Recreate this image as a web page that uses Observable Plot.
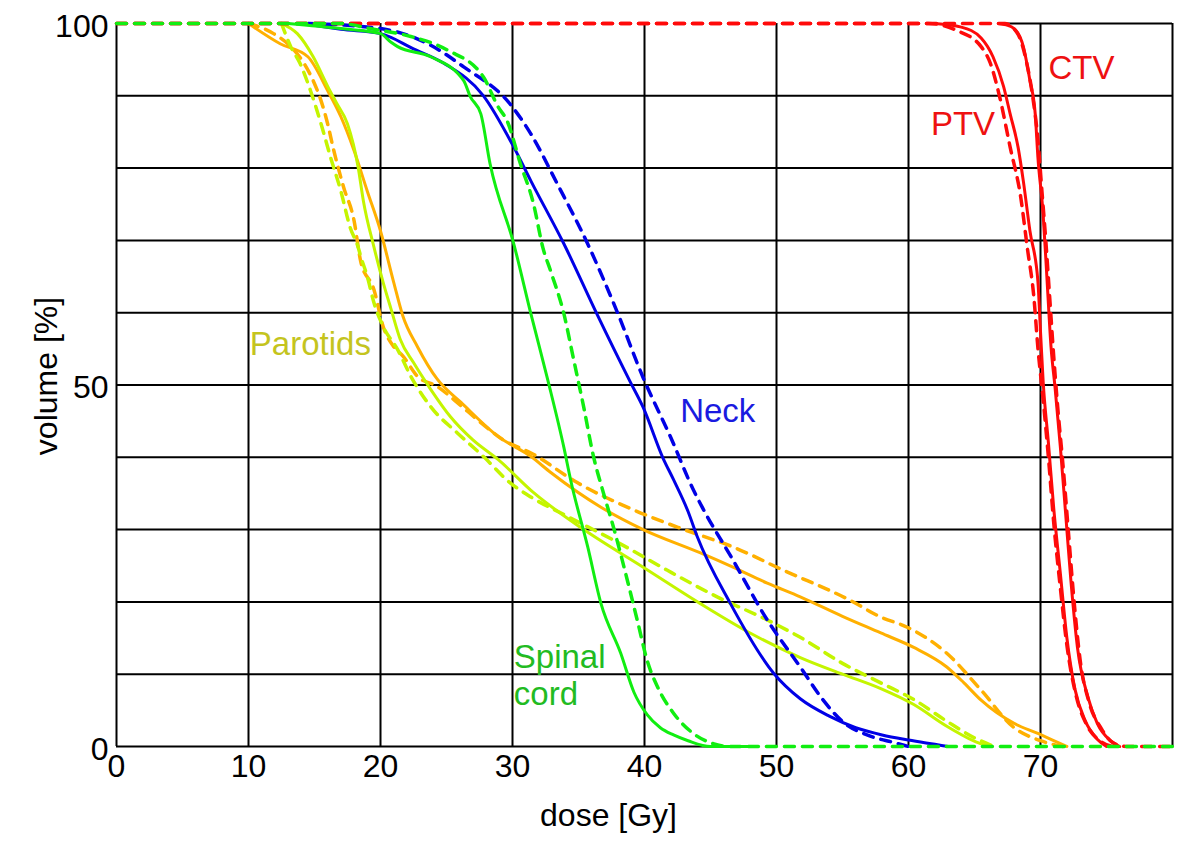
<!DOCTYPE html>
<html>
<head>
<meta charset="utf-8">
<script src="https://cdn.jsdelivr.net/npm/d3@7"></script>
<script src="https://cdn.jsdelivr.net/npm/@observablehq/plot@0.6"></script>
<style>
  html, body { margin: 0; padding: 0; background: #fff; }
  #chart { width: 1200px; height: 848px; }
</style>
</head>
<body>
<div id="chart"></div>
<script>
// ---- data: [dose (Gy), volume (%)] ----
const ctvSolid = [[66.8,100],[67.4,99.8],[68,99.3],[68.7,96.8],[69.2,92.1],[69.6,87.5],[69.8,81.6],[70.2,73.6],[70.5,64.4],[70.8,55.2],[71.1,49.7],[71.5,41.5],[71.9,32.3],[72.3,23],[72.8,13.7],[73.6,6.8],[74.3,3.2],[75.3,0.8],[76,0]];
const ctvDashed = [[0,100],[67.3,100],[68.3,98.5],[68.9,95],[69.4,90],[69.8,84],[70.1,77],[70.4,70],[70.7,62],[71,54],[71.3,47],[71.7,39],[72.1,30],[72.5,21],[73,12],[73.7,6],[74.6,2.5],[75.5,0.5],[76.5,0],[80,0]];
const ptvSolid = [[62,100],[64,99.5],[65.5,98],[66.4,95.4],[67.2,91.3],[67.7,87.5],[68.3,82.9],[68.7,78.2],[69.2,71.3],[69.8,64.4],[70,57.4],[70.2,50.5],[70.6,42],[71,33],[71.5,24],[72,15],[72.6,8],[73.4,3.5],[74.3,1],[75,0]];
const ptvDashed = [[0,100],[61.5,100],[63.7,99],[65.5,96.8],[66.2,94.5],[66.9,89.9],[67.7,82.9],[68.5,76],[69,69],[69.5,62.1],[69.8,55.2],[70.2,48],[70.6,40],[71,31],[71.5,22],[72,14],[72.7,7],[73.5,3],[74.5,0.8],[75.5,0]];
const neckSolid = [[14.2,100],[17,99.2],[20,98.6],[22.5,96.5],[24.8,94.5],[27.8,90],[30.1,82.9],[31.4,78.2],[33.9,69.5],[36.4,59.8],[38.9,50.5],[39.9,46.9],[41.4,39.9],[42.2,36.9],[43.3,32.5],[44,29],[46.5,19.8],[49.8,10.1],[51.8,6.6],[54,4.2],[56,2.6],[58,1.6],[60,0.9],[62,0.3],[63,0]];
const neckDashed = [[14.5,100],[20,99.3],[23.8,97],[26.3,94],[29.8,88.9],[31.4,84.7],[33.4,77.8],[35.7,69.5],[38,59.8],[39.9,51],[42,42.7],[43.7,35.5],[44.4,33],[46.7,25.8],[49.3,17.5],[51.8,11],[53.5,6.5],[55.1,3.3],[57,1.5],[59,0.5],[60,0]];
const cordSolid = [[13,100],[17,99.3],[20,98.6],[20.8,97.4],[21.3,96.8],[23.8,95.4],[26.3,92.1],[26.8,89.9],[27.6,87.5],[28.3,80.6],[30.1,69.5],[31.4,59.8],[32.7,50.5],[33.9,41.3],[34.4,36.9],[35.7,27.6],[36.7,19.8],[38.2,12.9],[39.2,7.5],[40.2,4.4],[41.2,2.6],[42.2,1.6],[43.3,0.8],[45,0],[47.8,0]];
const cordDashed = [[0,100],[17,100],[19.2,99.3],[22.3,98.2],[25.1,96.3],[27.8,92.6],[28.9,88.5],[29.6,86.5],[30.6,80.6],[31.6,75],[32.3,69],[32.9,65.7],[33.9,59.8],[34.6,53.8],[35.4,46.9],[36.1,40.4],[36.9,35],[37.7,30],[38.7,23],[39.5,17.1],[40.2,11.9],[41,8.2],[42.2,4.6],[43.7,1.8],[45.2,0.4],[46.5,0],[80,0]];
const parotidASolid = [[10,100],[12.4,97.2],[14.5,95.4],[16,90.7],[17,87.1],[18,82.4],[19,76.8],[20,71.3],[21,64.2],[21.7,59.5],[22.8,55.3],[24.3,50.8],[26.1,47.6],[28.9,42.9],[31.4,40.1],[32.9,37.9],[36.7,33.1],[39.9,30],[44.2,26.8],[46.7,24.8],[49.3,22.6],[51.8,20.7],[55,18],[57.9,15.7],[60.4,13.7],[62.9,11],[64.2,8.8],[65.5,6.4],[68,3.2],[69.8,1.8],[71,0.8],[72,0]];
const parotidADashed = [[10,100],[11.9,98.6],[13.2,96.8],[14.2,94.5],[14.9,92.1],[15.5,89.3],[16,86.1],[16.4,82.9],[17.2,77.4],[18,72.7],[18.5,67.1],[19.5,63.2],[20.2,58.1],[21,55.3],[21.7,54],[22.8,51.2],[24.3,49.8],[25.8,47.6],[27.6,44.8],[29.3,42.4],[31.4,40.6],[34.9,36.5],[39.2,32.7],[43,30],[46.7,27.6],[50.5,24.4],[55.6,20.2],[57.9,17.9],[59.9,16.5],[62.9,12.9],[65.5,7.8],[68,2.6],[70,0.8],[71.7,0]];
const parotidBSolid = [[12.5,100],[13.7,98.6],[14.9,95.4],[16,91.3],[16.7,88.9],[17.5,86.1],[18.3,80.2],[18.7,75.5],[19.5,69.1],[20.2,64.2],[20.8,60.5],[21.5,56.3],[22.5,53.1],[23.8,49.4],[25.3,45.6],[27,42.4],[28.9,39.7],[31.6,35.1],[35.4,30],[39.9,24.8],[44.2,19.8],[48,15.7],[51.8,12.3],[55,10],[57.9,8],[60.4,5.8],[62.9,2.8],[64.9,0.8],[66,0]];
const parotidBDashed = [[12.5,100],[13.2,96.8],[13.9,94.5],[14.7,90.7],[15.5,86.1],[16.2,81.6],[17,76.8],[17.7,71.8],[18.3,69.1],[18.5,67.8],[19,65],[19.5,61.4],[20.2,58.1],[21.3,54.9],[22.3,51.2],[23.8,47],[25.8,43.4],[27.8,40.1],[29.8,36.5],[31.4,34.5],[34.2,31.8],[38,28.2],[41.7,24.4],[45.5,20.7],[49.3,17.5],[51.8,15.1],[55,11.5],[57.9,8.8],[60.4,6.5],[62.9,3.5],[65,1.2],[66.5,0]];

const xTicks = [0, 10, 20, 30, 40, 50, 60, 70];
const yTicks = [0, 50, 100];
const xGrid = [10, 20, 30, 40, 50, 60, 70];
const yGrid = [10, 20, 30, 40, 50, 60, 70, 80, 90];
const xMax = 80, yMax = 100;

const labelText = ["CTV", "PTV", "Neck", "Parotids", "Spinal", "cord"];
const labelDose = [70.6, 61.7, 42.7, 10.1, 30.1, 30.1];
const labelVol  = [93.8, 86.1, 46.4, 55.6, 12.3, 7.2];
const labelColor = ["#ee1111", "#ee1111", "#1a1ae0", "#c4c41e", "#22bb22", "#22bb22"];
const labels = labelText.map((t, i) => ({text: t, dose: labelDose[i], vol: labelVol[i], color: labelColor[i]}));

// box edges: the dashed 100% / 0% plateaus hide the box where they run
const topPlateauEnd = ctvDashed.filter(d => d[1] === yMax).slice(-1)[0][0];
const bottomSolidEnd = cordSolid[cordSolid.length - 1][0];
const boxTop = [{x1: topPlateauEnd, x2: xMax, y: yMax}];
const boxBottom = [{x1: 0, x2: bottomSolidEnd, y: 0}];

const RED = "#ff0a0a", BLUE = "#0000e6", GREEN = "#11ee11", ORANGE = "#ffb000", YGREEN = "#c4f500";
const DASH = "10,8";
const W = 3;

function curve(data, color, dashed) {
  return Plot.line(data, {
    x: d => d[0], y: d => d[1],
    curve: "monotone-x",
    stroke: color, strokeWidth: dashed ? 3.5 : W,
    strokeDasharray: dashed ? DASH : null
  });
}

const chart = Plot.plot({
  width: 1200,
  height: 848,
  marginLeft: 116,
  marginRight: 28,
  marginTop: 23,
  marginBottom: 102,
  style: {fontFamily: "'Liberation Sans', Arial, sans-serif", fontSize: "32px", background: "#fff", color: "#000"},
  x: {domain: [0, xMax]},
  y: {domain: [0, yMax]},
  marks: [
    Plot.ruleX(xGrid, {stroke: "#000", strokeWidth: 2}),
    Plot.ruleY(yGrid, {stroke: "#000", strokeWidth: 2}),
    Plot.ruleX([0, xMax], {stroke: "#000", strokeWidth: 2}),
    Plot.ruleY(boxTop, {x1: "x1", x2: "x2", y: "y", stroke: "#000", strokeWidth: 2}),
    Plot.ruleY(boxBottom, {x1: "x1", x2: "x2", y: "y", stroke: "#000", strokeWidth: 2}),
    curve(parotidASolid, ORANGE, false),
    curve(parotidADashed, ORANGE, true),
    curve(parotidBSolid, YGREEN, false),
    curve(parotidBDashed, YGREEN, true),
    curve(neckSolid, BLUE, false),
    curve(neckDashed, BLUE, true),
    curve(ptvSolid, RED, false),
    curve(ptvDashed, RED, true),
    curve(ctvSolid, RED, false),
    curve(ctvDashed, RED, true),
    curve(cordSolid, GREEN, false),
    curve(cordDashed, GREEN, true),
    Plot.axisX(xTicks, {tickSize: 0, tickPadding: 8, label: null, fontSize: 32}),
    Plot.axisY(yTicks, {tickSize: 0, tickPadding: 8, label: null, fontSize: 32, dy: 3}),
    Plot.text(["dose [Gy]"], {frameAnchor: "bottom", textAnchor: "middle", lineAnchor: "middle", dx: -36, dy: 69, fontSize: 32}),
    Plot.text(["volume [%]"], {frameAnchor: "left", textAnchor: "middle", lineAnchor: "middle", dx: -70, dy: -9, rotate: -90, fontSize: 32}),
    Plot.text(labels, {x: "dose", y: "vol", text: "text", fill: "color", textAnchor: "start", fontSize: 33})
  ]
});
document.getElementById("chart").appendChild(chart);
</script>
</body>
</html>
